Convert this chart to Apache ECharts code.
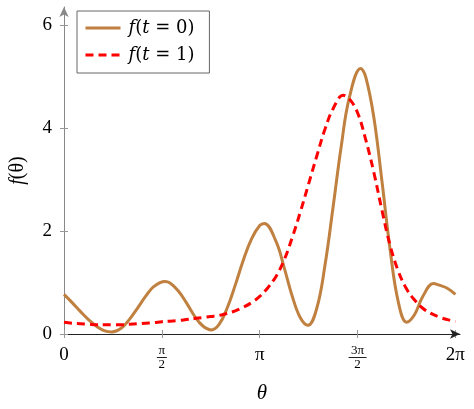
<!DOCTYPE html>
<html>
<head>
<meta charset="utf-8">
<script src="https://cdn.jsdelivr.net/npm/echarts@6/dist/echarts.min.js"></script>
<style>
  html, body { margin: 0; padding: 0; background: #fff; }
  #chart { width: 474px; height: 409px; }
</style>
</head>
<body>
<div id="chart"></div>
<script>
// f(t = 0), brown solid: theta positions and values (extrema included)
const thetaT0 = [
  0.0000, 0.1309, 0.2618, 0.3927, 0.5236, 0.6545, 0.7660, 0.9163, 1.0472, 1.1781,
  1.3090, 1.4399, 1.6200, 1.7017, 1.8326, 1.9635, 2.0944, 2.2253, 2.3650, 2.4871,
  2.6180, 2.7489, 2.8798, 3.0107, 3.1416, 3.2150, 3.4034, 3.5343, 3.6652, 3.7961,
  3.9170, 4.0579, 4.1888, 4.3197, 4.4506, 4.5815, 4.7630, 4.8433, 4.9742, 5.1051,
  5.2360, 5.3669, 5.5000, 5.6287, 5.7596, 5.9300, 6.0214, 6.1523, 6.2832
];
const fT0 = [
  0.77, 0.61, 0.44, 0.28, 0.15, 0.06, 0.04, 0.11, 0.28, 0.50,
  0.73, 0.92, 1.02, 0.99, 0.84, 0.61, 0.35, 0.16, 0.08, 0.18,
  0.50, 0.95, 1.44, 1.85, 2.11, 2.15, 1.80, 1.29, 0.73, 0.31,
  0.17, 0.50, 1.33, 2.47, 3.65, 4.60, 5.16, 5.00, 4.21, 2.96,
  1.63, 0.62, 0.23, 0.38, 0.73, 0.98, 0.95, 0.89, 0.77
];
// f(t = 1), red dashed
const thetaT1 = [
  0.0000, 0.1309, 0.2618, 0.3927, 0.5236, 0.6545, 0.7854, 0.9163, 1.0472, 1.1781,
  1.3090, 1.4399, 1.5708, 1.7017, 1.8326, 1.9635, 2.0944, 2.2253, 2.3562, 2.4871,
  2.6180, 2.7489, 2.8798, 3.0107, 3.1416, 3.2725, 3.4034, 3.5343, 3.6652, 3.7961,
  3.9270, 4.0579, 4.1888, 4.3197, 4.4840, 4.5815, 4.7124, 4.8433, 4.9742, 5.1051,
  5.2360, 5.3669, 5.4978, 5.6287, 5.7596, 5.8905, 6.0214, 6.1523, 6.2832
];
const fT1 = [
  0.23, 0.21, 0.20, 0.19, 0.18, 0.18, 0.18, 0.18, 0.19, 0.20,
  0.21, 0.22, 0.24, 0.25, 0.26, 0.28, 0.30, 0.32, 0.34, 0.36,
  0.40, 0.45, 0.52, 0.61, 0.73, 0.90, 1.12, 1.44, 1.88, 2.38,
  2.92, 3.46, 3.98, 4.38, 4.64, 4.57, 4.30, 3.78, 3.14, 2.40,
  1.72, 1.22, 0.88, 0.66, 0.50, 0.40, 0.33, 0.28, 0.24
];
const seriesNames = ['f(t = 0)', 'f(t = 1)'];
const xTicks = [0, Math.PI / 2, Math.PI, 3 * Math.PI / 2, 2 * Math.PI];
const xTickLabels = ['0', 'π/2', 'π', '3π/2', '2π'];
const yTicks = [0, 2, 4, 6];

const FONT = 'Liberation Serif';
const LEGEND_FONT = 'DejaVu Serif';

function pairs(xs, ys) {
  return ys.map((y, i) => [xs[i], y]);
}

function xLabel(value) {
  let idx = 0;
  xTicks.forEach((t, i) => {
    if (Math.abs(t - value) < Math.abs(xTicks[idx] - value)) idx = i;
  });
  const lab = xTickLabels[idx];
  if (lab.indexOf('/') < 0) return lab;
  const parts = lab.split('/');
  const bar = parts[0].length > 1 ? 'barW' : 'bar';
  return '{n|' + parts[0] + '}\n{' + bar + '| }\n{n|' + parts[1] + '}';
}

const chart = echarts.init(document.getElementById('chart'));

const tickStyle = { color: '#999', width: 1 };

chart.setOption({
  animation: false,
  textStyle: { fontFamily: FONT },
  grid: { left: 64, right: 14, top: 7, bottom: 73 },
  legend: {
    data: seriesNames,
    orient: 'vertical',
    left: 77,
    top: 11,
    padding: [7, 15, 8, 7],
    itemGap: 7,
    itemWidth: 35,
    itemHeight: 20,
    borderColor: '#666',
    borderWidth: 1,
    itemStyle: { opacity: 0 },
    lineStyle: { width: 3 },
    formatter: function (name) {
      return name.replace(/([ft])/g, '{i|$1}');
    },
    textStyle: {
      fontFamily: LEGEND_FONT,
      fontSize: 18,
      lineHeight: 20,
      color: '#000',
      padding: [0, 0, 0, 3],
      rich: {
        i: { fontFamily: LEGEND_FONT, fontSize: 18, fontStyle: 'italic', color: '#000', lineHeight: 20 }
      }
    }
  },
  xAxis: [
    {
      type: 'value',
      min: 0,
      max: 6.357,
      name: 'θ',
      nameLocation: 'middle',
      nameGap: 49,
      nameTextStyle: { fontFamily: FONT, fontSize: 21, fontStyle: 'italic', color: '#000' },
      splitLine: { show: false },
      axisLine: {
        show: true,
        lineStyle: { color: '#222', width: 1 },
        symbol: ['none', 'arrow'],
        symbolSize: [7, 10]
      },
      axisTick: { show: true, length: 4, customValues: xTicks, lineStyle: tickStyle },
      axisLabel: {
        customValues: xTicks,
        formatter: xLabel,
        margin: 11,
        fontFamily: FONT,
        fontSize: 19,
        lineHeight: 20,
        color: '#000',
        rich: {
          n: { fontFamily: FONT, fontSize: 13, lineHeight: 11, color: '#000' },
          bar: { width: 10, height: 1, lineHeight: 3, fontSize: 1, backgroundColor: '#222' },
          barW: { width: 18, height: 1, lineHeight: 3, fontSize: 1, backgroundColor: '#222' }
        }
      }
    },
    {
      type: 'value',
      min: 0,
      max: 6.357,
      position: 'bottom',
      splitLine: { show: false },
      axisLine: { show: false },
      axisLabel: { show: false },
      axisTick: { show: true, inside: true, length: 4, customValues: xTicks, lineStyle: tickStyle }
    }
  ],
  yAxis: [
    {
      type: 'value',
      min: 0,
      max: 6.357,
      name: '{i|f}(θ)',
      nameLocation: 'middle',
      nameGap: 36,
      nameRotate: 90,
      nameTextStyle: {
        fontFamily: FONT,
        fontSize: 20,
        color: '#000',
        rich: {
          i: { fontFamily: FONT, fontSize: 20, fontStyle: 'italic', color: '#000' }
        }
      },
      splitLine: { show: false },
      axisLine: {
        show: true,
        lineStyle: { color: '#888', width: 1 },
        symbol: ['none', 'arrow'],
        symbolSize: [7, 10]
      },
      axisTick: { show: true, length: 4, customValues: yTicks, lineStyle: tickStyle },
      axisLabel: {
        customValues: yTicks,
        margin: 12,
        fontFamily: FONT,
        fontSize: 19,
        color: '#000'
      }
    },
    {
      type: 'value',
      min: 0,
      max: 6.357,
      position: 'left',
      splitLine: { show: false },
      axisLine: { show: false },
      axisLabel: { show: false },
      axisTick: { show: true, inside: true, length: 4, customValues: yTicks, lineStyle: tickStyle }
    }
  ],
  series: [
    {
      name: seriesNames[0],
      type: 'line',
      data: pairs(thetaT0, fT0),
      smooth: 0.4,
      symbol: 'none',
      lineStyle: { color: '#BF8040', width: 3 },
      itemStyle: { color: '#BF8040' },
      z: 3
    },
    {
      name: seriesNames[1],
      type: 'line',
      data: pairs(thetaT1, fT1),
      smooth: 0.4,
      symbol: 'none',
      lineStyle: { color: '#FF0000', width: 3, type: [8, 5] },
      itemStyle: { color: '#FF0000' },
      z: 4
    }
  ]
});
</script>
</body>
</html>
